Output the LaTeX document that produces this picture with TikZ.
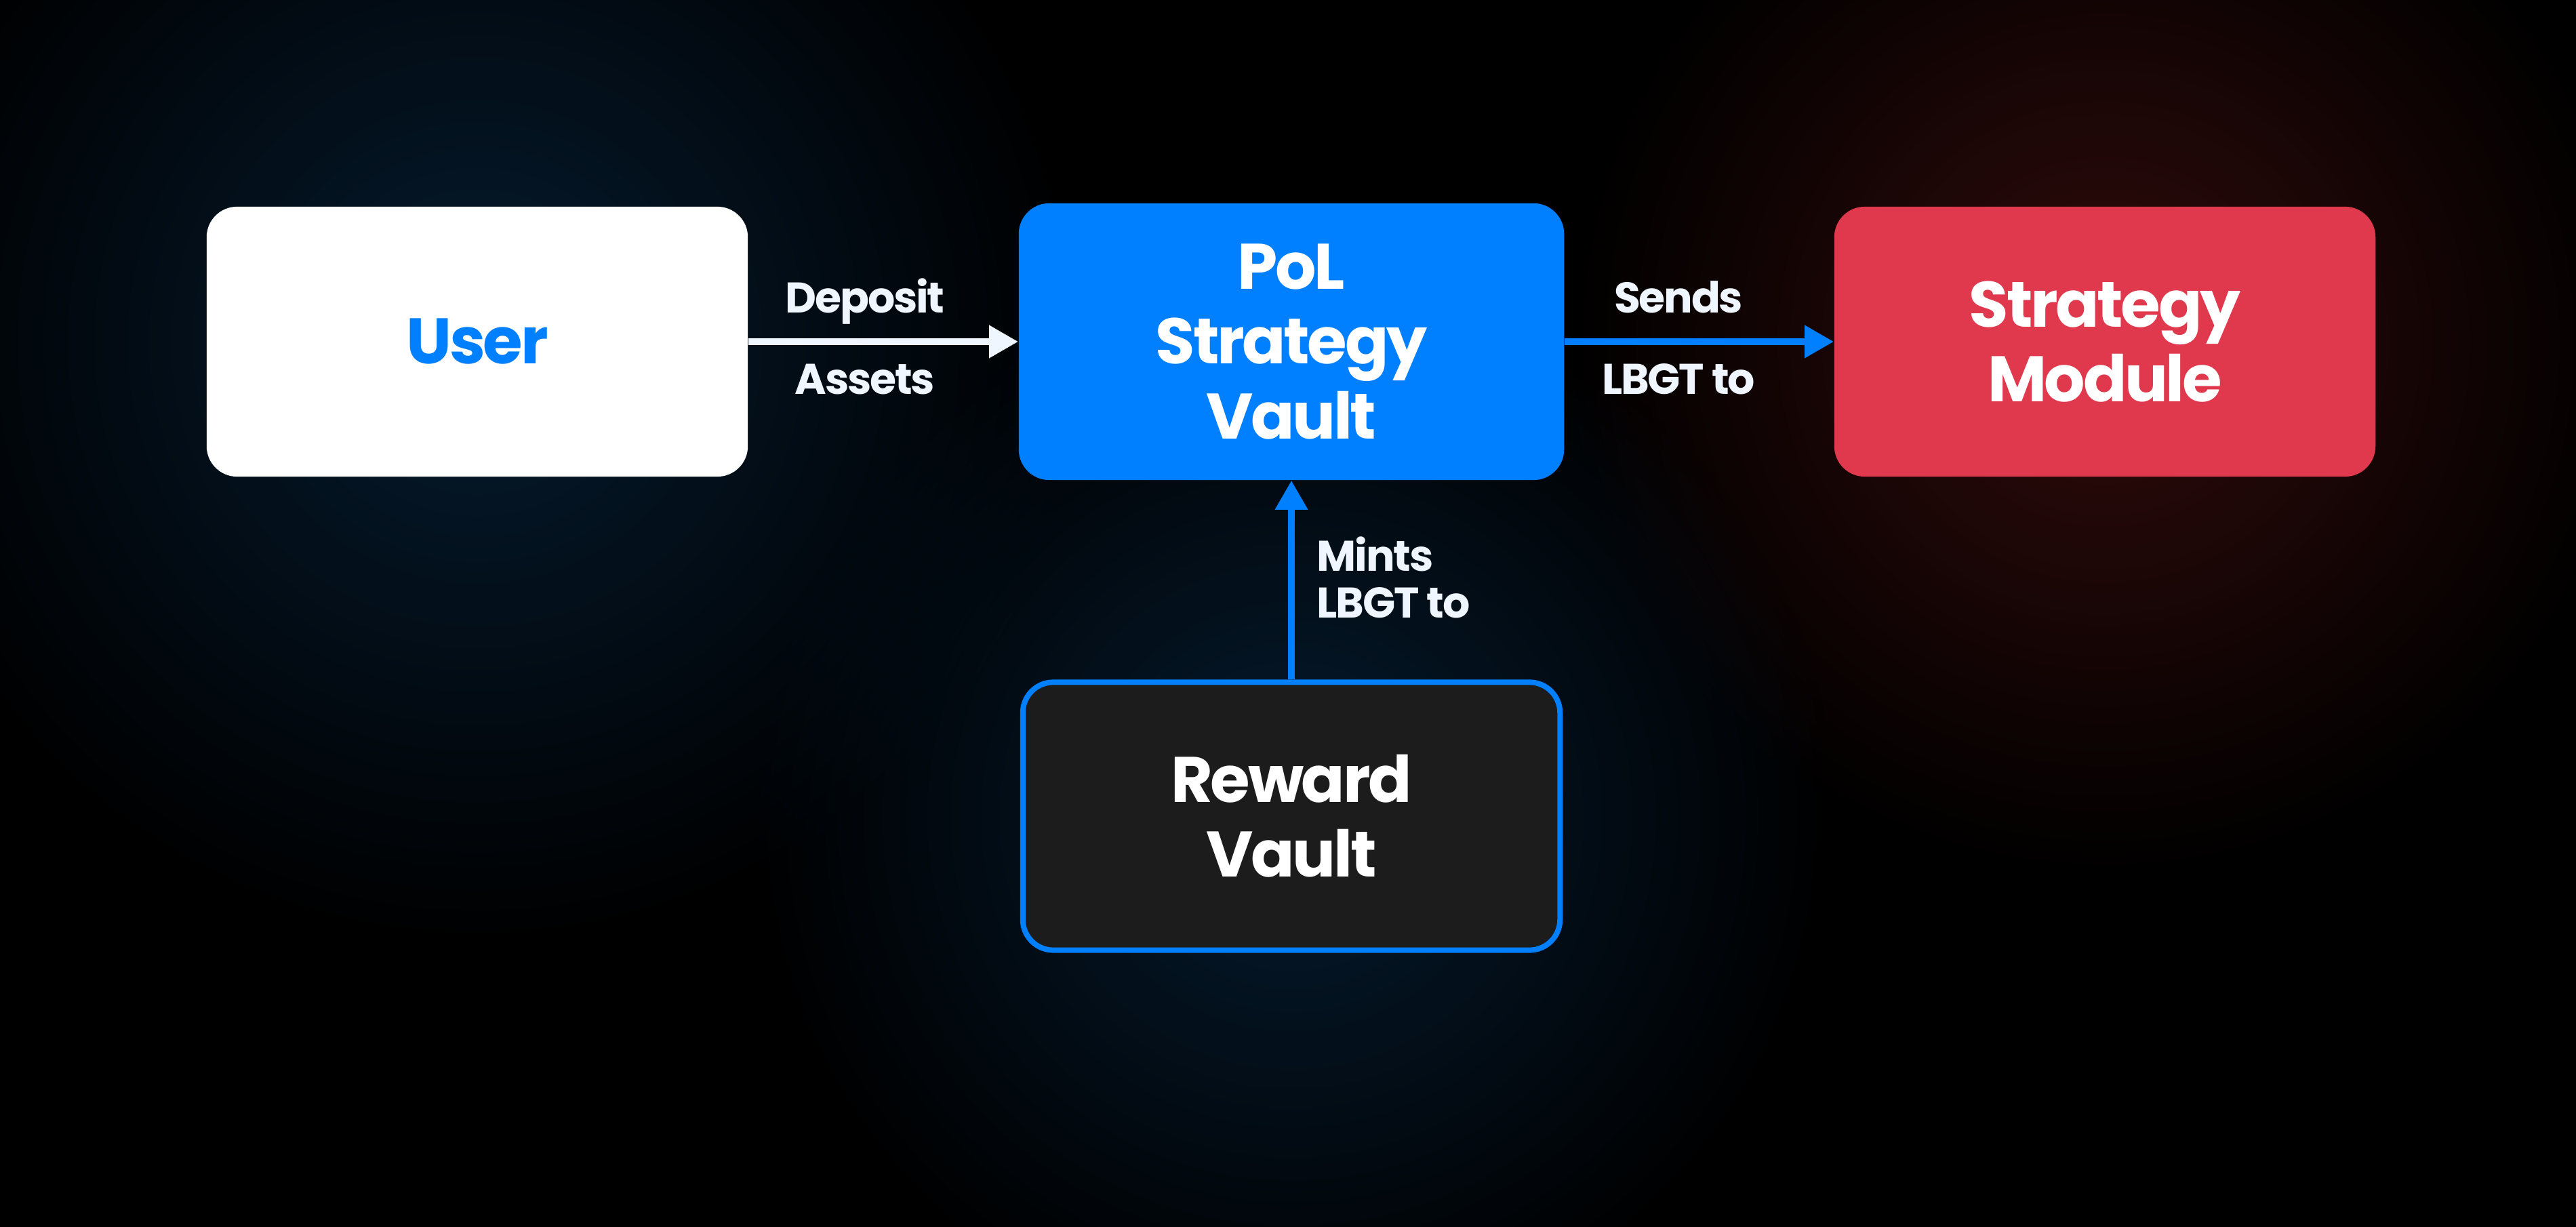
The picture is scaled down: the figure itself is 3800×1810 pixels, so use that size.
\documentclass[tikz,border=0pt]{standalone}
\usepackage{fontspec}
\setmainfont{Poppins}[LetterSpace=-3.5]
\usetikzlibrary{arrows.meta,fadings}
\definecolor{polblue}{RGB}{0,128,255}
\definecolor{polred}{RGB}{224,56,76}
\definecolor{polgrey}{RGB}{28,28,28}
\definecolor{polwhite}{RGB}{240,246,255}
\definecolor{glowblue}{RGB}{6,28,48}
\definecolor{glowred}{RGB}{50,12,12}
\tikzfading[name=glowfade, inner color=transparent!0, outer color=transparent!100]

\begin{document}
\begin{tikzpicture}[x=0.01cm, y=-0.01cm,
  box/.style={rounded corners=0.45cm, minimum width=7.98cm, minimum height=3.98cm,
    inner sep=0pt, align=center, font=\fontsize{27}{31.3}\selectfont\bfseries},
  lbl/.style={anchor=base, inner sep=0pt, text=polwhite, font=\fontsize{18}{19.6}\selectfont\bfseries},
  flow/.style={line width=0.1cm, -{Triangle[length=0.43cm, width=0.46cm]}}]
\useasboundingbox (0,0) rectangle (3800,1810);
\fill[black] (0,0) rectangle (3800,1810);
% soft glows behind the boxes
\fill[glowblue, path fading=glowfade] (704,504) circle (9cm);
\fill[glowred, path fading=glowfade] (3105,504) circle (8cm);
\fill[glowblue, path fading=glowfade] (1905,1204) circle (8cm);

\node[box, fill=white, text=polblue] (user) at (704,504) {User};
\node[box, fill=polblue, text=white, minimum width=8.04cm, minimum height=4.08cm] (vault) at (1905,504) {PoL\\Strategy\\Vault};
\node[box, fill=polred, text=white] (module) at (3105,504) {Strategy\\Module};
\node[box, fill=polgrey, draw=polblue, line width=0.08cm, text=white,
  minimum width=7.92cm, minimum height=3.95cm] (reward) at (1905,1204) {Reward\\Vault};

\draw[flow, polwhite] (user) -- (vault);
\draw[flow, polblue] (vault) -- (module);
\draw[flow, polblue] (reward) -- (vault);

\node[lbl] (deposit) at (1276,462) {Deposit};
\node[lbl] (assets) at (1276,582) {Assets};
\node[lbl] (sends) at (2476,462) {Sends};
\node[lbl] (sendlbgt) at (2476,582) {LBGT to};
\node[lbl, anchor=base west] (mints) at (1942,843) {Mints};
\node[lbl, anchor=base west] (mintlbgt) at (1942,912) {LBGT to};
\end{tikzpicture}
\end{document}
